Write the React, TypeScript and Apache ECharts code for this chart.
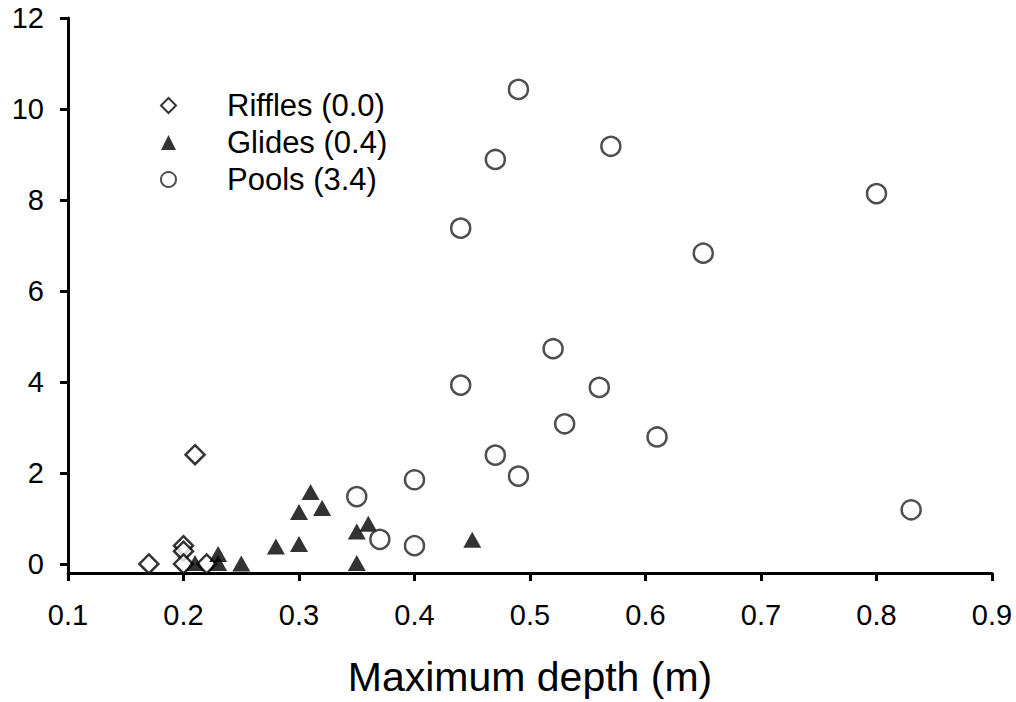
import React, { useEffect, useRef } from "react";
import * as echarts from "echarts";

const xTicks = [0.1, 0.2, 0.3, 0.4, 0.5, 0.6, 0.7, 0.8, 0.9];
const yTicks = [0, 2, 4, 6, 8, 10, 12];

const riffles: number[][] = [
  [0.17, 0], [0.2, 0.4], [0.2, 0.28], [0.2, 0], [0.22, 0], [0.21, 2.4],
];
const glides: number[][] = [
  [0.21, 0.02], [0.23, 0.22], [0.23, 0.02], [0.25, 0.01], [0.28, 0.38], [0.3, 0.44],
  [0.3, 1.14], [0.31, 1.58], [0.32, 1.23], [0.35, 0.71], [0.36, 0.88], [0.35, 0.02], [0.45, 0.53],
];
const pools: number[][] = [
  [0.49, 10.43], [0.47, 8.89], [0.57, 9.18], [0.44, 7.38], [0.8, 8.14], [0.65, 6.83],
  [0.52, 4.73], [0.44, 3.93], [0.56, 3.88], [0.53, 3.08], [0.61, 2.79], [0.47, 2.39],
  [0.49, 1.93], [0.4, 1.85], [0.35, 1.48], [0.37, 0.54], [0.4, 0.4], [0.83, 1.19],
];
const seriesNames = ["Riffles (0.0)", "Glides (0.4)", "Pools (3.4)"];

const FONT = "'Liberation Sans', Arial, sans-serif";

export default function App() {
  const ref = useRef<HTMLDivElement>(null);
  useEffect(() => {
    if (!ref.current) return;
    const chart = echarts.init(ref.current, null, { renderer: "svg" });
    chart.setOption({
      animation: false,
      backgroundColor: "#fff",
      grid: { left: 68, right: 24, top: 18, bottom: 129 },
      legend: {
        orient: "vertical",
        left: 155,
        top: 85,
        itemWidth: 15,
        itemHeight: 15,
        itemGap: 6,
        data: [
          { name: seriesNames[0], icon: "diamond" },
          { name: seriesNames[1], icon: "triangle" },
          { name: seriesNames[2], icon: "circle" },
        ],
        textStyle: {
          fontFamily: FONT,
          fontSize: 31,
          color: "#000",
          lineHeight: 31,
          padding: [0, 0, 0, 46],
        },
      },
      xAxis: {
        type: "value",
        min: 0.1,
        max: 0.9,
        name: "Maximum depth (m)",
        nameLocation: "middle",
        nameGap: 83,
        nameTextStyle: { fontFamily: FONT, fontSize: 41, color: "#000" },
        axisLine: { onZero: false, lineStyle: { color: "#000", width: 3 } },
        axisTick: { show: true, length: 8, lineStyle: { color: "#000", width: 3 }, customValues: xTicks },
        axisLabel: {
          fontFamily: FONT,
          fontSize: 29,
          color: "#000",
          margin: 27,
          customValues: xTicks,
          formatter: (v: number) => v.toFixed(1),
        },
        splitLine: { show: false },
      },
      yAxis: {
        type: "value",
        min: -0.2,
        max: 12,
        axisLine: { show: true, onZero: false, lineStyle: { color: "#000", width: 3 } },
        axisTick: { show: true, length: 8, lineStyle: { color: "#000", width: 3 }, customValues: yTicks },
        axisLabel: {
          fontFamily: FONT,
          fontSize: 29,
          color: "#000",
          margin: 24,
          customValues: yTicks,
          formatter: (v: number) => String(Math.round(v)),
        },
        splitLine: { show: false },
      },
      series: [
        {
          name: seriesNames[0],
          type: "scatter",
          symbol: "diamond",
          symbolSize: 19,
          data: riffles,
          itemStyle: { color: "#fff", borderColor: "#000", borderWidth: 2.5 },
          z: 2,
        },
        {
          name: seriesNames[1],
          type: "scatter",
          symbol: "triangle",
          symbolSize: [18, 16],
          data: glides,
          itemStyle: { color: "#000" },
          z: 3,
        },
        {
          name: seriesNames[2],
          type: "scatter",
          symbol: "circle",
          symbolSize: 19,
          data: pools,
          itemStyle: { color: "#fff", borderColor: "#222", borderWidth: 2.5 },
          z: 4,
        },
      ],
    });
    return () => chart.dispose();
  }, []);
  return (
    <div
      ref={ref}
      style={{ position: "absolute", left: 0, top: 0, width: 1016, height: 702 }}
    />
  );
}
